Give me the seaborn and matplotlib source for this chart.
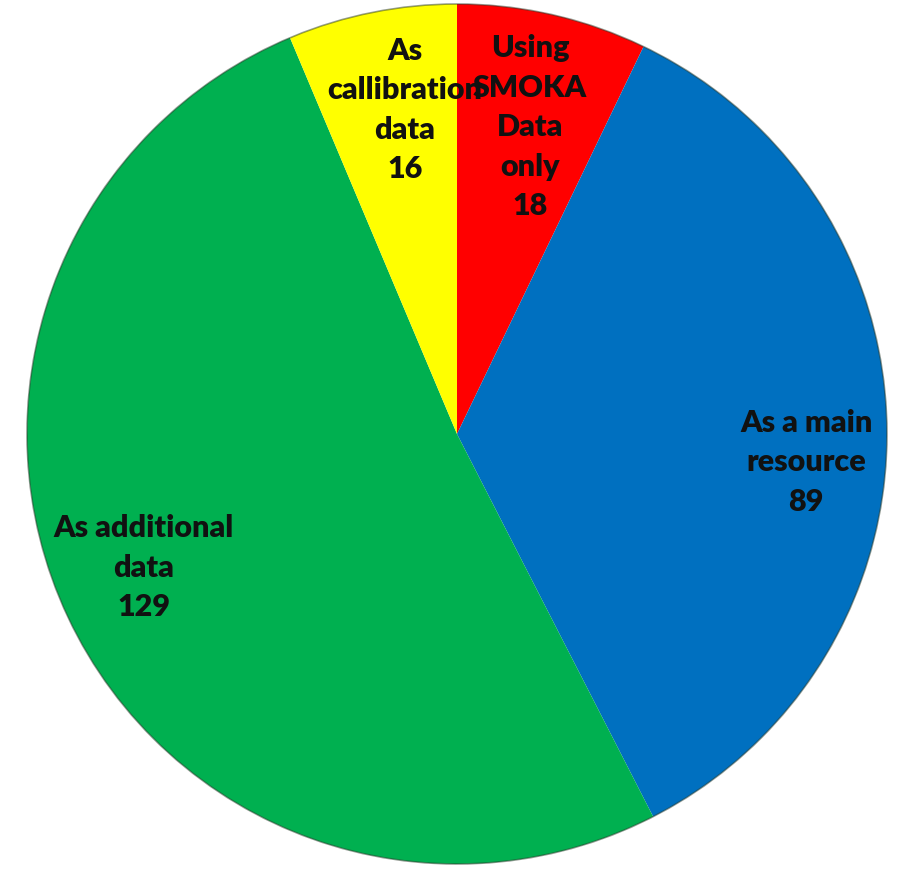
"""Pie chart of how SMOKA data were used in papers."""
import seaborn as sns
from matplotlib import pyplot as plt

categories = ["Using\nSMOKA\nData\nonly", "As a main\nresource", "As additional\ndata", "As\ncallibration\ndata"]
counts = [18, 89, 129, 16]
colors = ["#FF0000", "#0070C0", "#00B050", "#FFFF00"]

# label centres picked to sit where the original put them (data units, r=1 pie)
label_pos = [(0.17, 0.716), (0.812, -0.063), (-0.728, -0.309), (-0.121, 0.756)]

sns.set_theme(style="white")
plt.rcParams['font.family'] = ['Lato', 'DejaVu Sans']

fig = plt.figure(figsize=(9.01, 8.70), dpi=100)
ax = fig.add_axes([0, 0, 1, 1])

labels = [f"{c}\n{n}" for c, n in zip(categories, counts)]
wedges, texts = ax.pie(counts, labels=labels, colors=colors, startangle=90,
                       counterclock=False, labeldistance=0.78,
                       wedgeprops=dict(edgecolor="none"),
                       textprops=dict(fontsize=22, fontweight="heavy",
                                      color="#111111",
                                      ha="center", va="center",
                                      multialignment="center",
                                      linespacing=1.5))
for t, p in zip(texts, label_pos):
    t.set_position(p)

# faint dark rim like the original's bevel
rim = plt.Circle((0, 0), 1.0, fill=False, edgecolor="#2a3a2a", linewidth=1.2, alpha=0.5)
ax.add_patch(rim)

ax.set_aspect("auto")
ax.set_xlim(-457 / 430, (901 - 457) / 430)
ax.set_ylim(-435 / 430, 435 / 430)
ax.axis("off")

plt.savefig("out.png", dpi=100)
